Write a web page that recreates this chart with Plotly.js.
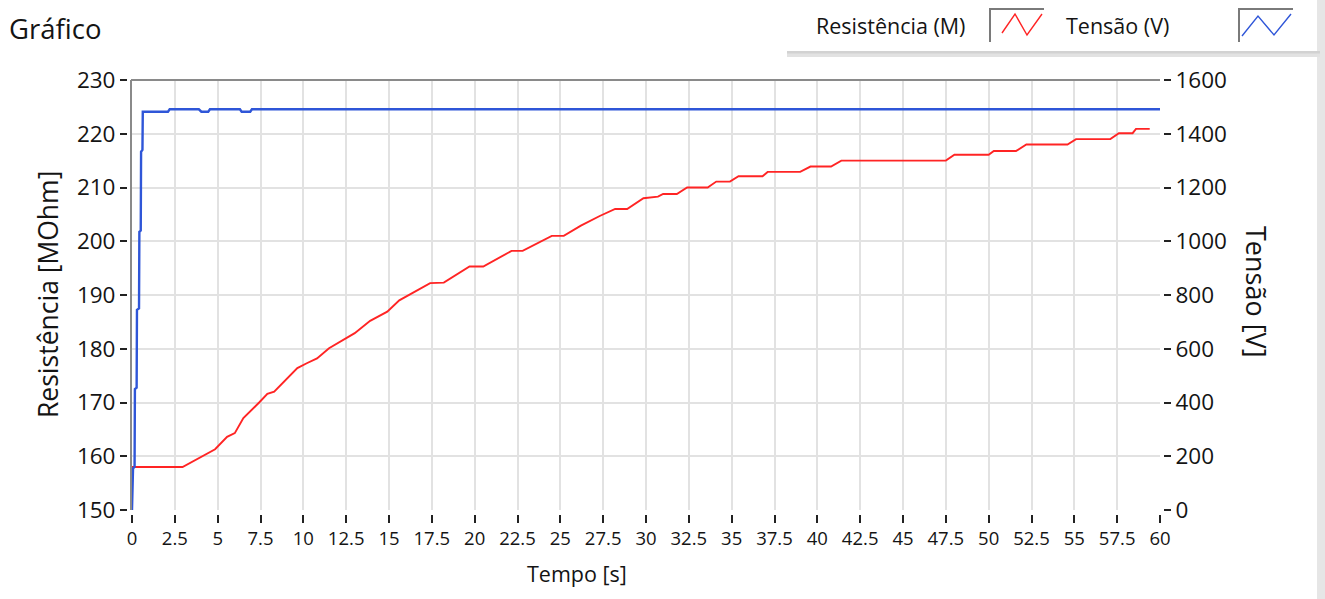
<!DOCTYPE html>
<html>
<head>
<meta charset="utf-8">
<script src="https://cdn.plot.ly/plotly-3.0.1.min.js"></script>
<style>html,body{margin:0;padding:0;background:#fff;}#chart{width:1325px;height:599px;}</style>
</head>
<body>
<div id="chart"></div>
<script>
// ---- data ----
const tempoResistencia = [0, 2.95, 4.85, 5.55, 6.0, 6.5, 7.45, 7.9, 8.3, 9.65, 10.2, 10.8, 11.5, 12.3, 13.0, 13.9, 14.9, 15.6, 16.5, 17.4, 18.2, 19.3, 19.7, 20.5, 21.5, 22.15, 22.8, 24.0, 24.5, 25.2, 26.2, 27.3, 28.2, 28.9, 29.85, 30.7, 31.0, 31.8, 32.4, 33.6, 34.1, 34.9, 35.4, 36.8, 37.1, 39.0, 39.6, 40.8, 41.4, 47.5, 48.0, 50.0, 50.3, 51.6, 52.2, 54.6, 55.1, 57.1, 57.6, 58.4, 58.6, 59.4];
const resistencia = [158, 158, 161.3, 163.6, 164.3, 167.1, 170.1, 171.6, 172.0, 176.4, 177.3, 178.2, 180.1, 181.6, 182.9, 185.2, 186.9, 189.0, 190.6, 192.2, 192.3, 194.5, 195.3, 195.3, 197.0, 198.2, 198.2, 200.2, 201.0, 201.0, 202.9, 204.7, 206.0, 206.0, 208.0, 208.3, 208.8, 208.8, 210.0, 210.0, 211.1, 211.1, 212.1, 212.1, 212.9, 212.9, 213.9, 213.9, 215.0, 215.0, 216.1, 216.1, 216.8, 216.8, 218.0, 218.0, 219.0, 219.0, 220.1, 220.1, 220.9, 220.9];

const tempoTensao = [0, 0.06, 0.15, 0.17, 0.27, 0.29, 0.41, 0.43, 0.51, 0.53, 0.61, 0.63, 2.1, 2.2, 3.9, 4.05, 4.45, 4.55, 6.3, 6.4, 6.9, 7.0, 60];
const tensao = [0, 155, 160, 450, 455, 745, 750, 1035, 1040, 1333, 1340, 1482, 1482, 1491, 1491, 1482, 1482, 1491, 1491, 1482, 1482, 1491, 1491];

const xTicks = [0, 2.5, 5, 7.5, 10, 12.5, 15, 17.5, 20, 22.5, 25, 27.5, 30, 32.5, 35, 37.5, 40, 42.5, 45, 47.5, 50, 52.5, 55, 57.5, 60];
const yTicksLeft = [150, 160, 170, 180, 190, 200, 210, 220, 230];
const yTicksRight = [0, 200, 400, 600, 800, 1000, 1200, 1400, 1600];

const chartTitle = 'Gráfico';
const legendNames = ['Resistência (M)', 'Tensão (V)'];
const xTitle = 'Tempo [s]';
const yTitleLeft = 'Resistência [MOhm]';
const yTitleRight = 'Tensão [V]';

// ---- layout geometry (pixels) ----
const FW = 1325, FH = 599;
const M = {l: 127, r: 162, t: 80, b: 85};
const W = FW - M.l - M.r, H = FH - M.t - M.b;
const px = x => (x - M.l) / W;
const py = y => (FH - M.b - y) / H;

const FONT = '"Open Sans", "Noto Sans", sans-serif';
const RED = '#ff2424', BLUE = '#2f56d8', GRID = '#e2e2e2', TXT = '#141414';

const traces = [
  {x: tempoResistencia, y: resistencia, type: 'scatter', mode: 'lines', name: legendNames[0],
   line: {color: RED, width: 1.9}, yaxis: 'y', showlegend: false},
  {x: tempoTensao, y: tensao, type: 'scatter', mode: 'lines', name: legendNames[1],
   line: {color: BLUE, width: 2.4}, yaxis: 'y2', showlegend: false}
];

const xDom = [px(132), px(1160)];
const yDom = [py(510), 1];

function zig(pts){ return 'M ' + pts.map(p => px(p[0]) + ',' + py(p[1])).join(' L '); }

const shapes = [
  // right gray strip
  {type: 'rect', xref: 'paper', yref: 'paper', x0: px(1317), x1: px(1325), y0: py(599), y1: py(0), fillcolor: '#e6e6e6', line: {width: 0}, layer: 'below'},
  // legend shadow
  {type: 'rect', xref: 'paper', yref: 'paper', x0: px(787), x1: px(1320), y0: py(57), y1: py(51), fillcolor: '#e2e2e2', line: {width: 0}, layer: 'below'},
  {type: 'rect', xref: 'paper', yref: 'paper', x0: px(787), x1: px(1320), y0: py(53.5), y1: py(51), fillcolor: '#d2d2d2', line: {width: 0}, layer: 'below'},
  {type: 'rect', xref: 'paper', yref: 'paper', x0: px(787), x1: px(1316), y0: py(51), y1: py(0), fillcolor: '#ffffff', line: {width: 0}, layer: 'below'},
  // legend icon frames
  {type: 'path', xref: 'paper', yref: 'paper', path: zig([[990, 42], [990, 9], [1044, 9]]), line: {color: '#7a7a7a', width: 2}},
  {type: 'path', xref: 'paper', yref: 'paper', path: zig([[1002, 33], [1015, 14], [1027, 35], [1042, 14]]), line: {color: RED, width: 1.4}},
  {type: 'path', xref: 'paper', yref: 'paper', path: zig([[1239, 42], [1239, 9], [1293, 9]]), line: {color: '#7a7a7a', width: 2}},
  {type: 'path', xref: 'paper', yref: 'paper', path: zig([[1242, 36], [1258, 16], [1274, 35], [1291, 14]]), line: {color: BLUE, width: 1.4}},
  // plot frame (top & left)
  {type: 'line', xref: 'paper', yref: 'paper', x0: px(131), x1: px(1160), y0: py(80), y1: py(80), line: {color: '#8a8a8a', width: 2}},
  {type: 'line', xref: 'paper', yref: 'paper', x0: px(131), x1: px(131), y0: py(80), y1: py(510), line: {color: '#8a8a8a', width: 2}}
];

const annotations = [
  {text: legendNames[0], xref: 'paper', yref: 'paper', x: px(814), y: py(26), xanchor: 'left', yanchor: 'middle', showarrow: false, font: {family: FONT, size: 21.5, color: TXT}},
  {text: legendNames[1], xref: 'paper', yref: 'paper', x: px(1064), y: py(26), xanchor: 'left', yanchor: 'middle', showarrow: false, font: {family: FONT, size: 21.5, color: TXT}},
  {text: xTitle, xref: 'paper', yref: 'paper', x: px(577), y: py(573), xanchor: 'center', yanchor: 'middle', showarrow: false, font: {family: FONT, size: 21.5, color: TXT}},
  {text: yTitleLeft, xref: 'paper', yref: 'paper', x: px(48), y: py(295), xanchor: 'center', yanchor: 'middle', textangle: -90, showarrow: false, font: {family: FONT, size: 26.5, color: TXT}},
  {text: yTitleRight, xref: 'paper', yref: 'paper', x: px(1257), y: py(291), xanchor: 'center', yanchor: 'middle', textangle: 90, showarrow: false, font: {family: FONT, size: 27, color: TXT}}
];

const layout = {
  width: FW, height: FH, autosize: false,
  margin: M,
  paper_bgcolor: '#ffffff', plot_bgcolor: '#ffffff',
  font: {family: FONT, color: TXT},
  title: {text: chartTitle, x: 9 / FW, xanchor: 'left', xref: 'container', y: 1 - 29 / FH, yanchor: 'middle', yref: 'container', font: {family: FONT, size: 27.5, color: TXT}},
  showlegend: false,
  xaxis: {domain: xDom, range: [0, 60], tickvals: xTicks, ticktext: xTicks.map(String),
          anchor: 'free', position: 0, showline: false, zeroline: false,
          showgrid: true, gridcolor: GRID, gridwidth: 2,
          ticks: 'outside', ticklen: 8, tickwidth: 2, tickcolor: '#222',
          tickfont: {family: FONT, size: 18.5, color: TXT}, fixedrange: true},
  yaxis: {domain: yDom, range: [150, 230], tickvals: yTicksLeft, ticktext: yTicksLeft.map(String),
          anchor: 'free', position: 0, showline: false, zeroline: false,
          showgrid: true, gridcolor: GRID, gridwidth: 2,
          ticks: 'outside', ticklen: 7, tickwidth: 2, tickcolor: '#222',
          tickfont: {family: FONT, size: 22.5, color: TXT}, fixedrange: true},
  yaxis2: {domain: yDom, range: [0, 1600], tickvals: yTicksRight, ticktext: yTicksRight.map(String),
           overlaying: 'y', side: 'right', anchor: 'free', position: 1,
           showline: false, zeroline: false, showgrid: false,
           ticks: 'outside', ticklen: 7, tickwidth: 2, tickcolor: '#222',
           tickfont: {family: FONT, size: 22.5, color: TXT}, fixedrange: true},
  shapes: shapes,
  annotations: annotations
};

Plotly.newPlot('chart', traces, layout, {displayModeBar: false, staticPlot: true});
</script>
</body>
</html>
